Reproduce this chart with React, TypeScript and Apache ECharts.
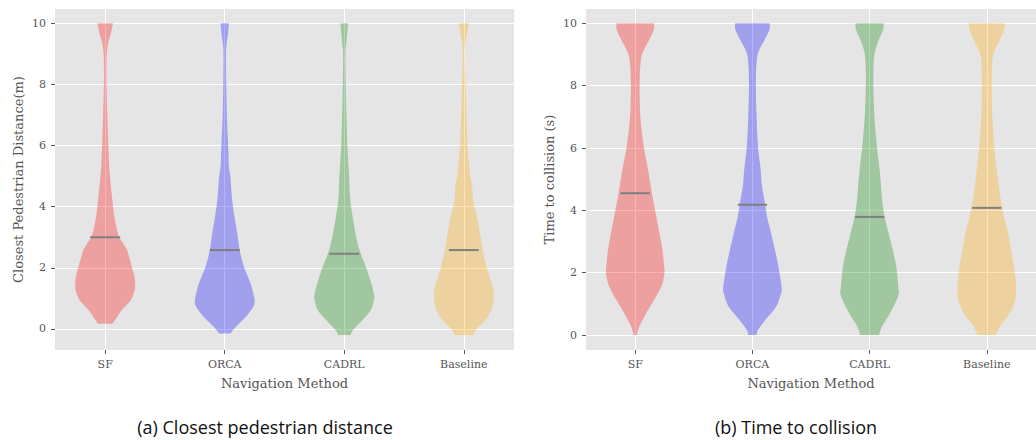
import React, { useEffect, useRef } from "react";
import * as echarts from "echarts";

// ---- Data ----
const methods = ["SF", "ORCA", "CADRL", "Baseline"];
const methodPositions = [1, 2, 3, 4];
const yTickValues = [0, 2, 4, 6, 8, 10];

// Violin profiles: [value, relative half-width (1 = widest)]
const sfDistance = [[0.17, 0.24], [0.29, 0.33], [0.62, 0.56], [0.95, 0.86], [1.28, 0.99], [1.5, 1.0], [1.7, 0.98], [2.04, 0.89], [2.3, 0.82], [2.58, 0.73], [2.8, 0.6], [3.0, 0.47], [3.35, 0.37], [3.78, 0.29], [4.4, 0.22], [5.1, 0.15], [5.86, 0.11], [6.95, 0.073], [8.04, 0.043], [8.7, 0.045], [9.02, 0.057], [9.35, 0.1], [9.67, 0.19], [10, 0.26]];
const orcaDistance = [[-0.15, 0.19], [0.08, 0.38], [0.4, 0.71], [0.73, 0.96], [0.9, 1.0], [1.1, 0.97], [1.5, 0.86], [2.04, 0.64], [2.58, 0.5], [3.13, 0.42], [3.7, 0.32], [4.3, 0.24], [4.97, 0.19], [5.3, 0.14], [5.86, 0.12], [6.95, 0.073], [8.0, 0.05], [9.02, 0.043], [9.35, 0.067], [9.67, 0.11], [10, 0.14]];
const cadrlDistance = [[-0.2, 0.21], [-0.04, 0.29], [0.29, 0.61], [0.62, 0.89], [0.95, 0.99], [1.1, 1.0], [1.5, 0.9], [2.04, 0.72], [2.46, 0.55], [2.91, 0.42], [3.56, 0.3], [4.22, 0.2], [5.09, 0.157], [5.86, 0.11], [6.95, 0.073], [8.0, 0.05], [9.02, 0.04], [9.35, 0.073], [9.67, 0.1], [10, 0.127]];
const baselineDistance = [[-0.2, 0.32], [-0.04, 0.39], [0.29, 0.72], [0.62, 0.92], [0.95, 0.99], [1.2, 1.0], [1.5, 0.93], [2.04, 0.76], [2.58, 0.63], [3.13, 0.54], [3.67, 0.44], [4.22, 0.31], [4.66, 0.28], [5.09, 0.21], [5.86, 0.133], [6.95, 0.09], [8.0, 0.06], [9.02, 0.033], [9.35, 0.057], [9.67, 0.11], [10, 0.167]];
const distanceMedians = [3.0, 2.58, 2.46, 2.58];

const sfCollision = [[0, 0.057], [0.27, 0.14], [0.69, 0.37], [1.12, 0.64], [1.55, 0.89], [1.87, 0.98], [2.05, 1.0], [2.19, 0.99], [2.73, 0.93], [3.26, 0.83], [3.8, 0.72], [4.33, 0.61], [4.55, 0.57], [5.4, 0.42], [6.05, 0.29], [7.0, 0.177], [8.07, 0.15], [8.82, 0.193], [9.14, 0.29], [9.46, 0.47], [9.79, 0.63], [10, 0.64]];
const orcaCollision = [[0, 0.14], [0.16, 0.19], [0.48, 0.44], [0.91, 0.81], [1.34, 0.98], [1.5, 1.0], [1.66, 0.98], [2.19, 0.89], [2.73, 0.77], [3.26, 0.64], [3.8, 0.5], [4.33, 0.41], [4.76, 0.33], [5.4, 0.27], [6.05, 0.19], [7.0, 0.143], [8.07, 0.117], [8.82, 0.15], [9.14, 0.23], [9.46, 0.41], [9.79, 0.58], [10, 0.59]];
const cadrlCollision = [[0, 0.32], [0.27, 0.42], [0.69, 0.69], [1.12, 0.92], [1.35, 1.0], [1.55, 0.98], [2.19, 0.91], [2.73, 0.79], [3.26, 0.65], [3.8, 0.51], [4.33, 0.43], [4.9, 0.38], [5.4, 0.33], [6.05, 0.25], [7.0, 0.167], [8.07, 0.127], [8.82, 0.143], [9.14, 0.193], [9.46, 0.31], [9.79, 0.46], [10, 0.48]];
const baselineCollision = [[0, 0.32], [0.27, 0.44], [0.69, 0.78], [1.12, 0.97], [1.55, 1.0], [2.19, 0.93], [2.73, 0.83], [3.26, 0.73], [3.8, 0.59], [4.33, 0.48], [4.55, 0.44], [5.4, 0.33], [6.05, 0.257], [7.0, 0.19], [8.07, 0.167], [8.82, 0.19], [9.14, 0.277], [9.46, 0.443], [9.79, 0.59], [10, 0.61]];
const collisionMedians = [4.55, 4.18, 3.79, 4.08];

const distanceProfiles = [sfDistance, orcaDistance, cadrlDistance, baselineDistance];
const collisionProfiles = [sfCollision, orcaCollision, cadrlCollision, baselineCollision];

// ---- Styles ----
const violinColors = [
  "rgba(255,0,0,0.3)",
  "rgba(0,0,255,0.3)",
  "rgba(0,128,0,0.3)",
  "rgba(255,165,0,0.3)",
];
const MAX_HALF = 0.25;
const MEDIAN_HALF = 0.125;
const SERIF = "'DejaVu Serif', serif";
const TEXT_GRAY = "#555555";

// Catmull-Rom smoothing of an outline side (pixel space, rendering only)
function smoothSide(pts: number[][], steps = 8): number[][] {
  const out: number[][] = [];
  const n = pts.length;
  for (let i = 0; i < n - 1; i++) {
    const p0 = pts[i - 1] || pts[i];
    const p1 = pts[i];
    const p2 = pts[i + 1];
    const p3 = pts[i + 2] || pts[i + 1];
    for (let s = 0; s < steps; s++) {
      const t = s / steps;
      const t2 = t * t;
      const t3 = t2 * t;
      const f = (a: number, b: number, c: number, d: number) =>
        0.5 * (2 * b + (-a + c) * t + (2 * a - 5 * b + 4 * c - d) * t2 + (-a + 3 * b - 3 * c + d) * t3);
      out.push([f(p0[0], p1[0], p2[0], p3[0]), f(p0[1], p1[1], p2[1], p3[1])]);
    }
  }
  out.push(pts[n - 1]);
  return out;
}

function violinSeries(gridIndex: number, profiles: number[][][], medians: number[]) {
  return {
    type: "custom",
    xAxisIndex: gridIndex,
    yAxisIndex: gridIndex,
    data: methodPositions.map((p, i) => [p, medians[i]]),
    z: 3,
    renderItem: (params: any, api: any) => {
      const i = params.dataIndex;
      const pos = api.value(0);
      const med = api.value(1);
      const prof = profiles[i];
      const right = smoothSide(prof.map(([v, w]) => api.coord([pos + w * MAX_HALF, v])));
      const left = smoothSide(
        prof
          .slice()
          .reverse()
          .map(([v, w]) => api.coord([pos - w * MAX_HALF, v]))
      );
      const a = api.coord([pos - MEDIAN_HALF, med]);
      const b = api.coord([pos + MEDIAN_HALF, med]);
      return {
        type: "group",
        children: [
          {
            type: "polygon",
            shape: { points: right.concat(left) },
            style: { fill: violinColors[i], stroke: "none" },
          },
          {
            type: "line",
            shape: { x1: a[0], y1: a[1], x2: b[0], y2: b[1] },
            style: { stroke: "#7f7f7f", lineWidth: 2 },
          },
        ],
      };
    },
  };
}

function xAxisDef(gridIndex: number) {
  return {
    type: "value",
    gridIndex,
    min: 0.58,
    max: 4.42,
    name: "Navigation Method",
    nameLocation: "middle",
    nameGap: 27,
    nameTextStyle: { fontFamily: SERIF, fontSize: 13, color: TEXT_GRAY },
    axisLine: { show: false, onZero: false },
    axisTick: {
      show: true,
      length: 4,
      customValues: methodPositions,
      lineStyle: { color: TEXT_GRAY, width: 1 },
    },
    axisLabel: {
      customValues: methodPositions,
      formatter: (v: number) => methods[Math.round(v) - 1] ?? "",
      fontFamily: SERIF,
      fontSize: 11,
      color: TEXT_GRAY,
      margin: 9,
    },
    splitLine: { show: true, lineStyle: { color: "#ffffff", width: 1 } },
  };
}

function yAxisDef(gridIndex: number, min: number, max: number, name: string) {
  return {
    type: "value",
    gridIndex,
    min,
    max,
    name,
    nameLocation: "middle",
    nameRotate: 90,
    nameGap: 30,
    nameTextStyle: { fontFamily: SERIF, fontSize: 13, color: TEXT_GRAY },
    axisLine: { show: false, onZero: false },
    axisTick: {
      show: true,
      length: 4,
      customValues: yTickValues,
      lineStyle: { color: TEXT_GRAY, width: 1 },
    },
    axisLabel: {
      customValues: yTickValues,
      fontFamily: SERIF,
      fontSize: 11,
      color: TEXT_GRAY,
      margin: 9,
    },
    splitLine: { show: true, lineStyle: { color: "#ffffff", width: 1 } },
  };
}

export default function App() {
  const ref = useRef<HTMLDivElement>(null);
  useEffect(() => {
    if (!ref.current) return;
    const chart = echarts.init(ref.current, undefined, { renderer: "svg" });
    chart.setOption({
      animation: false,
      backgroundColor: "#ffffff",
      grid: [
        { left: 55, top: 9, width: 459, height: 341, show: true, backgroundColor: "#e5e5e5", borderWidth: 0 },
        { left: 586, top: 9, width: 459, height: 341, show: true, backgroundColor: "#e5e5e5", borderWidth: 0 },
      ],
      xAxis: [xAxisDef(0), xAxisDef(1)],
      yAxis: [
        yAxisDef(0, -0.69, 10.47, "Closest Pedestrian Distance(m)"),
        yAxisDef(1, -0.48, 10.46, "Time to collision (s)"),
      ],
      series: [
        violinSeries(0, distanceProfiles, distanceMedians),
        violinSeries(1, collisionProfiles, collisionMedians),
      ],
      graphic: [
        {
          type: "text",
          x: 265,
          y: 427,
          style: {
            text: "(a) Closest pedestrian distance",
            fontFamily: "'Open Sans', sans-serif",
            fontSize: 18,
            lineHeight: 20,
            fill: "#111111",
            textAlign: "center",
            textVerticalAlign: "middle",
          },
        },
        {
          type: "text",
          x: 796,
          y: 427,
          style: {
            text: "(b) Time to collision",
            fontFamily: "'Open Sans', sans-serif",
            fontSize: 18,
            lineHeight: 20,
            fill: "#111111",
            textAlign: "center",
            textVerticalAlign: "middle",
          },
        },
      ],
    });
    return () => chart.dispose();
  }, []);
  return (
    <div
      ref={ref}
      style={{ position: "fixed", left: 0, top: 0, width: 1036, height: 440, background: "#fff" }}
    />
  );
}
